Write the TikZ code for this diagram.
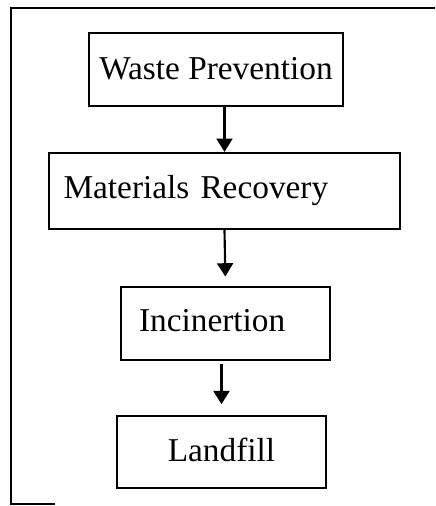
\documentclass[tikz,border=0pt]{standalone}
\usepackage{fontspec}
\setmainfont{Liberation Serif}
\usetikzlibrary{arrows.meta}

\begin{document}
\begin{tikzpicture}[x=0.75pt,y=0.75pt,yscale=-1,xscale=1,
  stagebox/.style={draw, line width=1.7pt, inner sep=0pt, font=\fontsize{25}{29}\selectfont},
  flowarrow/.style={line width=1.6pt, -{Triangle[length=10pt,width=12pt]}}]
\useasboundingbox (0,0) rectangle (435,506);

%Shape: Frame
\draw [line width=1.3pt] (435,8) -- (11,8) -- (11,504) -- (55,504) ;

% Text Node
\node [stagebox, minimum width=190.5pt, minimum height=54.75pt] (prevention) at (216,69.5) {\raisebox{2pt}{Waste Prevention}};
% Text Node
\node [stagebox, minimum height=57pt, text width=241.5pt, inner xsep=10.875pt, align=left] (recovery) at (224.5,191) {\raisebox{4pt}{Materials Recovery}};
% Text Node
\node [stagebox, minimum width=156.75pt, minimum height=54.75pt] (incineration) at (225.5,323.5) {\hspace*{-20pt}\raisebox{4pt}{Incinertion}};
% Text Node
\node [stagebox, minimum width=156.75pt, minimum height=54pt] (landfill) at (221.5,452) {\raisebox{4pt}{Landfill}};

%Straight Lines
\draw [flowarrow] (prevention.south -| recovery.north) -- (recovery.north) ;
%Straight Lines
\draw [flowarrow, shorten >=7pt] (recovery.south) -- (incineration.north) ;
%Straight Lines
\draw [flowarrow, shorten <=2pt, shorten >=8pt] (incineration.south -| landfill.north) -- (landfill.north) ;

\end{tikzpicture}
\end{document}
